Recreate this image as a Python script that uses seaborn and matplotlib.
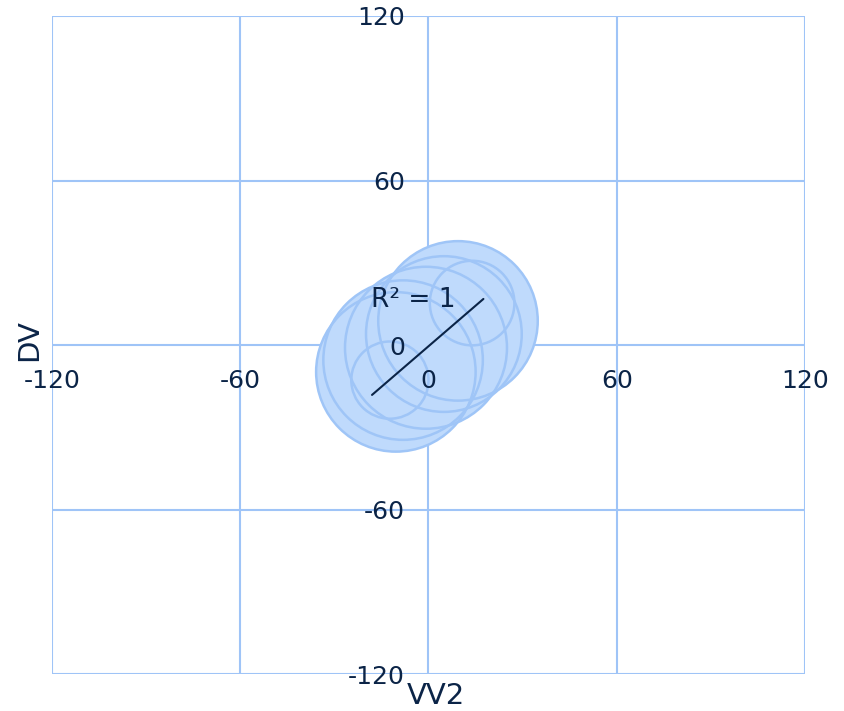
import pandas as pd
import seaborn as sns
import matplotlib.pyplot as plt

# Bubble data
vv2 = [9.4, 4.9, -0.8, 13.9, -10.4, -8.1, -12.3]
dv = [8.8, 4.0, -1.0, 15.3, -9.8, -5.5, -12.8]
bubble = [64, 61, 66, 18, 64, 64, 15]

# Trend line end points (R² = 1)
trend_x = [-18.0, 17.5]
trend_y = [-18.2, 16.8]

ticks = [-120, -60, 0, 60, 120]

df = pd.DataFrame({'VV2': vv2, 'DV': dv, 'size': bubble})
trend_df = pd.DataFrame({'x': trend_x, 'y': trend_y})

text_col = '#0b2447'
grid_col = '#9fc4f7'
fill_col = '#bfdafc'
edge_col = '#9fc5f7'

sns.set_style('white')
plt.rcParams['font.family'] = ['DejaVu Sans']
plt.rcParams['axes.unicode_minus'] = False

fig = plt.figure(figsize=(8.45, 7.11), dpi=100)
ax = fig.add_axes([0.0615, 0.052, 0.8912, 0.9255])

# Grid drawn by hand so it stays under the bubbles while tick labels stay on top
for t in ticks:
    ax.axvline(t, color=grid_col, linewidth=1.5, zorder=0.8)
    ax.axhline(t, color=grid_col, linewidth=1.5, zorder=0.8)

# Fills first, then outlines so every edge stays visible
sns.scatterplot(data=df, x='VV2', y='DV', size='size', sizes=(0, 13600), size_norm=(0, 66),
                color=fill_col, edgecolor='none', alpha=1, legend=False, ax=ax, zorder=1.2)
sns.scatterplot(data=df, x='VV2', y='DV', size='size', sizes=(0, 13600), size_norm=(0, 66),
                facecolor='none', edgecolor=edge_col, linewidth=1.8, legend=False, ax=ax, zorder=1.4)

sns.lineplot(data=trend_df, x='x', y='y', color=text_col, linewidth=1.5, ax=ax, zorder=1.8)
ax.text(-4.8, 16.4, 'R² = 1', color=text_col, fontsize=19, ha='center', va='center', zorder=3)

ax.set_xlim(-120, 120)
ax.set_ylim(-120, 120)
ax.set_xticks(ticks)
ax.set_yticks(ticks)
ax.grid(False)
ax.set_axisbelow(False)

# Axes cross at zero, tick labels sit next to the center lines
ax.spines['left'].set_position(('data', 0))
ax.spines['bottom'].set_position(('data', 0))
for s in ax.spines.values():
    s.set_visible(False)
ax.tick_params(length=0, pad=17, labelsize=18, labelcolor=text_col)

ax.set_xlabel('VV2', fontsize=21, color=text_col)
ax.set_ylabel('DV', fontsize=21, color=text_col)
ax.xaxis.set_label_coords(0.51, -0.012)
ax.yaxis.set_label_coords(-0.012, 0.508)

plt.savefig('out.png', dpi=100)
